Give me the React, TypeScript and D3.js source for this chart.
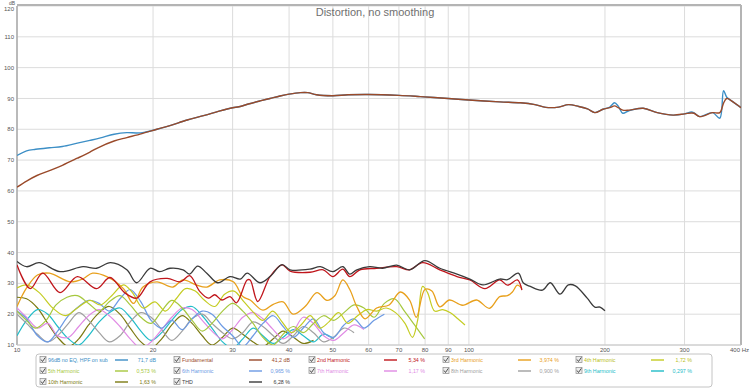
import React from "react";
import * as d3 from "d3";

// frequency (Hz), level (dB)
const measured: [number, number][] = [
  [10, 71.5], [10.5, 73.0], [11, 73.5], [11.8, 74.0], [12.6, 74.4], [13.6, 75.5], [14.5, 76.4], [15.3, 77.2],
  [16.4, 78.4], [17.5, 78.9], [18.4, 78.8], [19.1, 79.0], [20.4, 80.0], [21.8, 81.2], [23.8, 83.0], [26, 84.5],
  [28, 85.9], [30, 87.0], [31, 87.3], [32.5, 88.2], [34.5, 89.2], [36.3, 90.0], [38.2, 90.8], [40, 91.4],
  [42.4, 91.9], [44, 91.9], [46, 91.2], [50, 90.9], [54, 91.2], [60, 91.3], [70, 91.0], [78, 90.6], [90, 90.0],
  [100, 89.5], [117, 88.9], [130, 88.6], [140, 88.0], [148, 87.1], [158, 87.2], [166, 88.0], [175, 87.4],
  [183, 86.6], [190, 85.4], [198, 86.5], [205, 87.2], [210, 88.6], [214, 87.5], [219, 85.2], [226, 86.0],
  [243, 86.8], [261, 85.4], [283, 84.6], [300, 85.0], [311, 85.6], [315, 85.3], [324, 84.1], [346, 85.4],
  [359, 83.6], [366, 92.5], [372, 90.4], [384, 88.9], [400, 87.0],
];

const fundamental: [number, number][] = [
  [10, 61.2], [10.5, 63.2], [11.07, 65.0], [11.8, 66.6], [12.6, 68.3], [13.6, 70.6], [14.5, 72.6], [15.1, 74.0],
  [16.4, 76.2], [17.5, 77.3], [18.9, 78.6], [20.4, 80.0], [21.8, 81.2], [23.8, 83.0], [26, 84.5],
  [28, 85.9], [30, 87.0], [31, 87.3], [32.5, 88.2], [34.5, 89.2], [36.3, 90.0], [38.2, 90.8], [40, 91.4],
  [42.4, 91.9], [44, 91.9], [46, 91.2], [50, 90.9], [54, 91.2], [60, 91.3], [70, 91.0], [78, 90.6], [90, 90.0],
  [100, 89.5], [117, 88.9], [130, 88.6], [140, 88.0], [148, 87.1], [158, 87.2], [166, 88.0], [175, 87.4],
  [183, 86.6], [190, 85.4], [198, 86.5], [205, 87.0], [210, 87.6], [214, 87.0], [219, 86.2], [226, 86.2],
  [243, 86.8], [261, 85.4], [283, 84.6], [300, 85.0], [311, 85.3], [315, 85.2], [324, 84.1], [346, 85.4],
  [359, 85.4], [366, 88.5], [372, 90.0], [384, 88.9], [400, 87.0],
];

const thd: [number, number][] = [
  [10, 37.1], [10.5, 35.4], [11.2, 36.7], [12.45, 33.8], [14, 35.4], [15, 34.9], [16.1, 36.7], [17.5, 34.4],
  [18.4, 30.2], [19.7, 34.9], [20.7, 33.8], [21.8, 34.9], [23.3, 34.4], [24.1, 33.0], [25.1, 35.6], [26.3, 33.3],
  [27.8, 30.2], [29.6, 32.2], [31.2, 31.4], [32.3, 33.3], [34.5, 30.2], [36.3, 32.2], [38.6, 36.1], [40.2, 34.4],
  [44.5, 34.6], [46.9, 35.4], [50, 33.8], [52.6, 35.4], [54.5, 33.0], [56.5, 34.4], [60.3, 35.4], [64.4, 34.9],
  [69.2, 35.9], [73.9, 34.4], [79.9, 37.4], [86.2, 34.9], [94.1, 33.0], [100.5, 31.4], [107.4, 29.5], [117, 31.4],
  [121.7, 31.2], [128.6, 33.3], [132, 30.1], [136.7, 29.0], [145.5, 27.8], [151.4, 30.2], [159, 26.5],
  [166, 29.5], [172, 29.2], [182.7, 25.2], [190, 22.3], [195, 22.3], [200, 21.1],
];

const h2: [number, number][] = [
  [10, 36.0], [10.7, 28.3], [11.4, 33.3], [12.45, 27.0], [13.6, 32.2], [15, 28.3], [16.06, 31.9], [17.3, 27.0],
  [18.4, 25.2], [19.7, 30.5], [21.5, 31.6], [23, 30.5], [24.1, 32.5], [25.4, 27.3], [26.5, 25.2], [27.4, 26.3],
  [28.4, 24.6], [29.6, 25.7], [30.6, 23.7], [32.3, 31.1], [32.8, 31.1], [34.1, 24.1], [36.3, 32.2], [38.6, 36.0],
  [40.2, 34.0], [44.5, 33.6], [47.6, 34.4], [50, 32.2], [52.6, 34.6], [54.5, 32.2], [57.4, 34.4], [62.5, 34.9],
  [69.2, 35.4], [73.9, 34.4], [79, 36.7], [86.2, 34.4], [94.1, 32.2], [100.5, 31.1], [108.5, 28.3], [117, 31.1],
  [121.7, 29.4], [128, 31.1], [131, 27.8],
];

const h3: [number, number][] = [
  [10, 22.5], [10.5, 28.5], [11.1, 32.7], [11.8, 33.3], [13.1, 30.5], [14, 31.5], [14.7, 33.3], [15.8, 32.2],
  [17.2, 28.3], [18.1, 23.5], [19, 28.8], [20.4, 30.5], [22.1, 28.8], [23.3, 31.1], [25, 29.4], [26.3, 28.8],
  [28.1, 31.1], [30.1, 30.5], [31.6, 25.7], [32.8, 24.6], [35, 21.3], [36.9, 23.2], [38.8, 24.0], [40.8, 20.0],
  [43.4, 22.5], [46.1, 27.0], [48.5, 24.5], [50.5, 26.0], [52.6, 31.1], [54.5, 28.0], [56.5, 22.4], [58.9, 18.5],
  [62.5, 22.0], [66.6, 23.0], [70.5, 27.2], [73.9, 24.6], [76.5, 19.0], [79.9, 28.0], [82.8, 27.5], [86.2, 22.4],
  [90.6, 24.6], [96.8, 22.9], [104, 24.6], [111, 21.9], [117, 25.7], [121.7, 26.0], [124.8, 27.2], [128, 29.4],
  [131, 28.3],
];

const h4: [number, number][] = [
  [10, 28.5], [10.5, 29.5], [11.2, 27], [12, 22], [12.8, 19.5], [13.6, 22], [14.5, 24.5], [15.3, 23], [16.2, 26],
  [17.2, 29.5], [18, 27], [19, 22], [20.2, 24], [21.3, 21], [22.5, 25], [23.6, 28.3], [24.8, 27.5], [26, 24.5],
  [27.4, 22.5], [28.8, 26.5], [30.2, 27.5], [31.8, 24], [33.4, 20.5], [35, 18], [36.8, 21], [38.6, 17.5],
  [40.5, 14], [42.5, 16.5], [44.6, 19.5], [46.8, 15.5], [49, 17.5], [51.5, 20.5], [54, 17], [56.7, 19.5],
  [59.5, 21.5], [62.5, 21], [65.6, 22], [68.8, 20.5], [72.2, 17], [75, 12.5], [77, 18], [79, 29], [81, 27],
  [84, 21], [87.5, 21.5], [91, 20.5], [94.5, 18.5], [98, 16.5],
];

const h5: [number, number][] = [
  [10, 21], [10.5, 18], [11, 15.5], [11.6, 18], [12.2, 23], [12.9, 25.5], [13.6, 26], [14.4, 23.5], [15.2, 21],
  [16, 24], [16.9, 26], [17.8, 23], [18.8, 19], [19.8, 17], [20.9, 21], [22, 24.5], [23.2, 22], [24.4, 18],
  [25.7, 14.5], [27, 17], [28.5, 21], [30, 23.5], [31.6, 21], [33.3, 17], [35, 12.5], [36.9, 10], [38.8, 13.5],
  [40.9, 16], [43, 14], [45.3, 17], [47.7, 19.5], [50.2, 18], [52.9, 20.5], [55.7, 23], [58.6, 22], [61.7, 19],
  [65, 23.5], [68.4, 25], [72, 21], [75.8, 16.5], [79.8, 12],
];

const h6: [number, number][] = [
  [10, 21], [10.5, 18.5], [11.1, 13], [11.7, 11], [12.3, 14.5], [13, 19.5], [13.7, 22.5], [14.4, 24.5],
  [15.2, 23.5], [16, 21], [16.9, 25], [17.8, 28], [18.8, 24], [19.8, 18], [20.9, 15.5], [22, 18], [23.2, 15],
  [24.4, 18.5], [25.7, 21], [27, 20], [28.5, 16], [30, 13], [31.6, 9.5], [33.3, 13], [35, 17], [36.9, 19.5],
  [38.8, 16], [40.9, 12.5], [43, 15.5], [45.3, 18.5], [47.7, 14], [50.2, 12.5], [52.9, 16.5], [55.7, 18.5],
  [58.6, 15.5], [61.7, 18], [65, 20],
];

const h7: [number, number][] = [
  [10, 22], [10.5, 19], [11.1, 15.5], [11.7, 17], [12.3, 13], [13, 12.5], [13.7, 16], [14.4, 19.5], [15.2, 21.5],
  [16, 19.5], [16.9, 16], [17.8, 12], [18.8, 9], [19.8, 11], [20.9, 15], [22, 19], [23.2, 22], [24.4, 21.5],
  [25.7, 18], [27, 14.5], [28.5, 12], [30, 15], [31.6, 19], [33.3, 20.5], [35, 18.5], [36.9, 15], [38.8, 12],
  [40.9, 14.5], [43, 19], [45.3, 17], [47.7, 13], [50.2, 11.5], [52.9, 14], [55.7, 16.5], [58.6, 15],
];

const h8: [number, number][] = [
  [10, 20], [10.5, 17], [11.1, 13.5], [11.7, 11], [12.3, 13], [13, 17], [13.7, 20.5], [14.4, 18], [15.2, 14],
  [16, 11], [16.9, 13], [17.8, 17.5], [18.8, 20.5], [19.8, 19], [20.9, 15], [22, 11.5], [23.2, 14.5], [24.4, 18.5],
  [25.7, 20], [27, 17], [28.5, 14], [30, 12], [31.6, 14], [33.3, 17.5], [35, 16], [36.9, 13], [38.8, 10.5],
  [40.9, 13], [43, 16], [45.3, 14], [47.7, 11], [50.2, 12.5], [52.9, 15.5], [55.7, 14],
];

const h9: [number, number][] = [
  [10, 13], [10.5, 18], [11.1, 21.5], [11.7, 20], [12.3, 16], [13, 12], [13.7, 10], [14.4, 13], [15.2, 17.5],
  [16, 20.5], [16.9, 22], [17.8, 19], [18.8, 14.5], [19.8, 11.5], [20.9, 14], [22, 18], [23.2, 21.5], [24.4, 22.5],
  [25.7, 19.5], [27, 15.5], [28.5, 11], [30, 9], [31.6, 12], [33.3, 15.5], [35, 13], [36.9, 10.5], [38.8, 12.5],
  [40.9, 15], [43, 13], [45.3, 11], [47.7, 13.5], [50.2, 12],
];

const h10: [number, number][] = [
  [10, 25.5], [10.5, 25], [11.1, 22], [11.7, 17], [12.3, 12.5], [13, 9.5], [13.7, 12], [14.4, 16.5], [15.2, 20.5],
  [16, 22.5], [16.9, 20], [17.8, 15.5], [18.8, 11], [19.8, 9], [20.9, 12], [22, 16.5], [23.2, 19.5], [24.4, 17],
  [25.7, 13], [27, 10], [28.5, 12.5], [30, 15.5], [31.6, 13.5], [33.3, 11], [35, 9.5], [36.9, 12], [38.8, 14.5],
  [40.9, 12.5], [43, 10.5], [45.3, 11.5],
];

const xTicks = [10, 20, 30, 40, 50, 60, 70, 80, 90, 100, 200, 300, 400];
const xGrid = [10, 20, 30, 40, 50, 60, 70, 80, 90, 100, 200, 300, 400];
const yTicks = [10, 20, 30, 40, 50, 60, 70, 80, 90, 100, 110, 120];

const legendNames = [
  "96dB no EQ, HPF on sub", "Fundamental", "2nd Harmonic", "3rd Harmonic", "4th Harmonic",
  "5th Harmonic", "6th Harmonic", "7th Harmonic", "8th Harmonic", "9th Harmonic",
  "10th Harmonic", "THD",
];
const legendValues = [
  "71,7 dB", "41,2 dB", "5,34 %", "3,974 %", "1,72 %",
  "0,573 %", "0,965 %", "1,17 %", "0,900 %", "0,297 %",
  "1,63 %", "6,28 %",
];
const legendColors = [
  "#3d8fc6", "#9a4a2a", "#c0161c", "#e8a01c", "#c4cc22",
  "#a6c83e", "#6c9ae4", "#e08ae4", "#a0a0a0", "#22bcc8",
  "#7c7a12", "#3a3a3a",
];
const legendTextColors = [
  "#3d8fc6", "#9a4a2a", "#c0161c", "#e8a01c", "#b8c020",
  "#a6c83e", "#6c9ae4", "#e08ae4", "#a0a0a0", "#22bcc8",
  "#7c7a12", "#3a3a3a",
];

const W = 750;
const H = 388;
const left = 17, right = 741, top = 6, bottom = 345;

export default function App() {
  const x = d3.scaleLog().domain([10, 400]).range([left, right]);
  const y = d3.scaleLinear().domain([10, 120]).range([bottom, top]);
  const line = d3.line<[number, number]>()
    .x(d => x(d[0]))
    .y(d => y(d[1]))
    .curve(d3.curveCatmullRom.alpha(0.5));

  // draw order: back to front
  const series: { data: [number, number][]; color: string; w: number }[] = [
    { data: h10, color: legendColors[10], w: 1.2 },
    { data: h9, color: legendColors[9], w: 1.2 },
    { data: h8, color: legendColors[8], w: 1.2 },
    { data: h7, color: legendColors[7], w: 1.2 },
    { data: h6, color: legendColors[6], w: 1.2 },
    { data: h5, color: legendColors[5], w: 1.2 },
    { data: h4, color: legendColors[4], w: 1.2 },
    { data: h3, color: legendColors[3], w: 1.3 },
    { data: h2, color: legendColors[2], w: 1.3 },
    { data: thd, color: legendColors[11], w: 1.3 },
    { data: measured, color: legendColors[0], w: 1.4 },
    { data: fundamental, color: legendColors[1], w: 1.4 },
  ];

  const font = "'Liberation Sans', Arial, sans-serif";
  const colX = [43, 177, 312, 446, 579];
  const rowY = [360, 371, 382];

  return (
    <svg width={W} height={H} style={{ position: "absolute", left: 0, top: 0, background: "#fff" }} fontFamily={font}>
      <defs>
        <clipPath id="plot">
          <rect x={left} y={top} width={right - left} height={bottom - top} />
        </clipPath>
      </defs>
      {yTicks.map(t => (
        <line key={"gy" + t} x1={left} x2={right} y1={y(t)} y2={y(t)} stroke="#dcdcdc" strokeWidth={1} />
      ))}
      {xGrid.map(t => (
        <line key={"gx" + t} x1={x(t)} x2={x(t)} y1={top} y2={bottom} stroke="#dcdcdc" strokeWidth={1} />
      ))}
      <line x1={left} x2={right} y1={top - 1} y2={top - 1} stroke="#b4b4b4" strokeWidth={2} />
      <line x1={right} x2={right} y1={top - 1} y2={bottom} stroke="#b4b4b4" strokeWidth={2} />
      <line x1={left} x2={left} y1={top} y2={bottom} stroke="#a8a8a8" strokeWidth={1.5} />
      <line x1={left} x2={right} y1={bottom} y2={bottom} stroke="#c8c8c8" strokeWidth={1} />

      <text x={375} y={16} textAnchor="middle" fontSize={11} fill="#707070">Distortion, no smoothing</text>

      <g clipPath="url(#plot)">
        {series.map((s, i) => (
          <path key={i} d={line(s.data) || ""} fill="none" stroke={s.color} strokeWidth={s.w} strokeLinejoin="round" />
        ))}
      </g>

      <text x={12} y={4.6} textAnchor="middle" fontSize={5} fill="#555">dB</text>
      {yTicks.map(t => (
        <text key={"ty" + t} x={14} y={t === 120 ? y(t) + 2.6 : y(t)} dy="0.35em" textAnchor="end" fontSize={6} fill="#555">{t}</text>
      ))}
      {xTicks.map(t => (
        <text key={"tx" + t} x={t === 400 ? 749 : x(t)} y={350} dy="0.35em" textAnchor={t === 400 ? "end" : "middle"} fontSize={6} fill="#555">
          {t === 400 ? "400 Hz" : t}
        </text>
      ))}

      <rect x={36} y={354} width={676} height={33} rx={3} fill="#fff" stroke="#c4c4c4" strokeWidth={1} />
      {legendNames.map((name, i) => {
        const cx = colX[i % 5];
        const cy = rowY[Math.floor(i / 5)];
        return (
          <g key={"lg" + i} fontSize={5.3}>
            <rect x={cx - 3} y={cy - 3.5} width={6} height={6} fill="#ececec" stroke="#8a8a8a" strokeWidth={0.7} />
            <path d={`M${cx - 2},${cy - 0.5} L${cx - 0.5},${cy + 1.5} L${cx + 2.3},${cy - 2.6}`} fill="none" stroke="#404040" strokeWidth={0.9} />
            <text x={cx + 5} y={cy} dy="0.35em" fill={legendTextColors[i]}>{name}</text>
            <line x1={cx + 72} x2={cx + 85} y1={cy} y2={cy} stroke={legendColors[i]} strokeWidth={1.4} />
            <text x={cx + 113} y={cy} dy="0.35em" textAnchor="end" fill={legendTextColors[i]}>{legendValues[i]}</text>
          </g>
        );
      })}
    </svg>
  );
}
